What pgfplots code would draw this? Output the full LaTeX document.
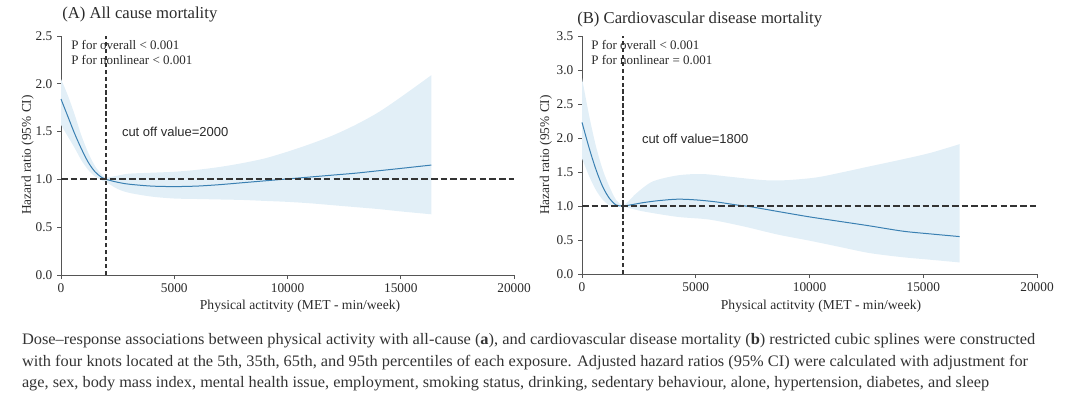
\documentclass[border=0pt]{standalone}
\usepackage{fontspec}
\setmainfont{Liberation Serif}
\newfontfamily\arialf{Liberation Sans}
\usepackage{graphicx}
\usepackage{pgfplots}
\pgfplotsset{compat=1.18}
\usepgfplotslibrary{fillbetween}
\definecolor{band}{HTML}{E2EFF7}
\definecolor{curve}{HTML}{3A80B2}
\definecolor{axisgray}{HTML}{555555}
\definecolor{txt}{HTML}{2A2A2A}
\definecolor{dashc}{HTML}{333333}

\pgfplotsset{
  rcs/.style={
    scale only axis, anchor=south west,
    axis lines=left,
    axis line style={-, color=axisgray, line width=0.6pt},
    tick align=outside, major tick length=3pt,
    tick style={color=axisgray, line width=0.6pt},
    xmin=0, xmax=20000, xtick={0,5000,10000,15000,20000},
    scaled x ticks=false, scaled y ticks=false,
    xticklabel style={/pgf/number format/1000 sep={}},
    yticklabel style={/pgf/number format/fixed, /pgf/number format/fixed zerofill, /pgf/number format/precision=1},
    /pgf/number format/assume math mode=true,
    tick label style={font=\fontsize{10}{11}\selectfont, text=txt},
    clip=false,
  },
  hdash/.style={dashc, line width=1.45pt, dash pattern=on 5pt off 2.3pt},
  vdash/.style={dashc, line width=1.25pt, dash pattern=on 3.2pt off 2pt},
}

\begin{document}
\begin{tikzpicture}
\path (0,0) rectangle (810pt,300pt);

% ---------------- Panel A ----------------
\begin{axis}[rcs, at={(45.75pt,93.75pt)}, width=339.75pt, height=179.25pt,
  ymin=0, ymax=2.5, ytick={0,0.5,1,1.5,2,2.5}]
\addplot[draw=none, name path=upA, smooth] coordinates {
(0,2.05) (300,1.88) (600,1.68) (900,1.46) (1200,1.28) (1500,1.14) (1800,1.05) (2000,1.02)
(2500,1.04) (3000,1.06) (4000,1.07) (5000,1.08) (6000,1.10) (7000,1.13) (8000,1.17)
(9000,1.22) (10000,1.29) (11000,1.37) (12000,1.46) (13000,1.57) (14000,1.70) (15000,1.86) (16350,2.09)};
\addplot[draw=none, name path=loA, smooth] coordinates {
(0,1.57) (300,1.45) (600,1.33) (900,1.20) (1200,1.10) (1500,1.03) (1800,0.99) (2000,0.97)
(2500,0.90) (3000,0.86) (4000,0.82) (5000,0.80) (6000,0.795) (7000,0.79) (8000,0.785)
(9000,0.775) (10000,0.765) (11000,0.75) (12000,0.73) (13000,0.71) (14000,0.69) (15000,0.665) (16350,0.635)};
\addplot[band, draw=none] fill between[of=upA and loA];
\addplot[curve, line width=0.75pt, smooth] coordinates {
(0,1.84) (300,1.66) (600,1.48) (900,1.32) (1200,1.18) (1500,1.08) (1800,1.02) (2000,1.00)
(2500,0.97) (3000,0.95) (4000,0.93) (5000,0.925) (6000,0.93) (7000,0.945) (8000,0.965)
(9000,0.985) (10000,1.005) (11000,1.025) (12000,1.045) (13000,1.065) (14000,1.09) (15000,1.115) (16350,1.15)};
\addplot[hdash] coordinates {(0,1) (20000,1)};
\addplot[vdash] coordinates {(2000,0) (2000,2.5)};
\end{axis}

% ---------------- Panel B ----------------
\begin{axis}[rcs, at={(436.5pt,94.5pt)}, width=341.25pt, height=178.5pt,
  ymin=0, ymax=3.5, ytick={0,0.5,1,1.5,2,2.5,3,3.5}]
\addplot[draw=none, name path=upB, smooth] coordinates {
(0,2.88) (325,2.31) (620,1.87) (915,1.53) (1210,1.28) (1500,1.09) (1800,1.01) (2100,1.09)
(2400,1.19) (3100,1.36) (4200,1.45) (5300,1.47) (6500,1.43) (8000,1.38) (9000,1.38)
(10300,1.42) (11500,1.50) (12600,1.58) (14000,1.68) (15300,1.78) (16600,1.91)};
\addplot[draw=none, name path=loB, smooth] coordinates {
(0,1.70) (325,1.43) (620,1.23) (915,1.09) (1210,1.01) (1500,0.99) (1800,0.99) (2700,0.92)
(4200,0.84) (5600,0.80) (7100,0.70) (8600,0.58) (10000,0.49) (11300,0.40) (12600,0.31)
(14000,0.25) (15300,0.21) (16600,0.17)};
\addplot[band, draw=none] fill between[of=upB and loB];
\addplot[curve, line width=0.75pt, smooth] coordinates {
(0,2.23) (325,1.84) (620,1.53) (915,1.28) (1210,1.11) (1500,1.015) (1800,1.0) (2200,1.02)
(2700,1.05) (3400,1.08) (4200,1.10) (5000,1.09) (5900,1.06) (6800,1.015) (7400,0.99)
(8600,0.92) (10000,0.84) (11200,0.78) (12600,0.71) (14100,0.63) (15300,0.59) (16600,0.55)};
\addplot[hdash] coordinates {(0,1) (20000,1)};
\addplot[vdash] coordinates {(1800,0) (1800,3.5)};
\end{axis}

% ---------------- Texts ----------------
\begin{scope}[every node/.style={inner sep=0pt, text=txt}]
\node[anchor=west, font=\fontsize{12.5}{14}\selectfont] at (46.5pt,288.75pt) {(A) All cause mortality};
\node[anchor=west, font=\fontsize{12.5}{14}\selectfont] at (432.75pt,285pt) {(B) Cardiovascular disease mortality};

\node[anchor=base west, font=\fontsize{9.75}{11}\selectfont] at (53.25pt,262.5pt) {P for overall < 0.001};
\node[anchor=base west, font=\fontsize{9.75}{11}\selectfont] at (53.25pt,251.25pt) {P for nonlinear < 0.001};
\node[anchor=base west, font=\fontsize{9.75}{11}\selectfont] at (443.25pt,262.5pt) {P for overall < 0.001};
\node[anchor=base west, font=\fontsize{9.75}{11}\selectfont] at (443.25pt,251.25pt) {P for nonlinear = 0.001};

\node[anchor=base west, font=\arialf\fontsize{9.75}{11}\selectfont] at (91.3pt,197.25pt) {cut off value=2000};
\node[anchor=base west, font=\arialf\fontsize{9.75}{11}\selectfont] at (481.3pt,192pt) {cut off value=1800};

\node[rotate=90, font=\fontsize{10}{12}\selectfont] at (20.7pt,183.75pt) {Hazard ratio (95\% CI)};
\node[rotate=90, font=\fontsize{10}{12}\selectfont] at (409.35pt,183.75pt) {Hazard ratio (95\% CI)};

\node[font=\fontsize{10.2}{12}\selectfont] at (225pt,70.5pt) {Physical actitvity (MET - min/week)};
\node[font=\fontsize{10.2}{12}\selectfont] at (615.75pt,70.5pt) {Physical actitvity (MET - min/week)};

\node[anchor=base west, font=\fontsize{12}{14}\selectfont, text=black!80] at (16.3pt,42pt)
 {\resizebox{760pt}{\height}{Dose–response associations between physical activity with all-cause (\textbf{a}), and cardiovascular disease mortality (\textbf{b}) restricted cubic splines were constructed}};
\node[anchor=base west, font=\fontsize{12}{14}\selectfont, text=black!80] at (16.3pt,25.5pt)
 {\resizebox{754.5pt}{\height}{with four knots located at the 5th, 35th, 65th, and 95th percentiles of each exposure. Adjusted hazard ratios (95\% CI) were calculated with adjustment for}};
\node[anchor=base west, font=\fontsize{12}{14}\selectfont, text=black!80] at (16.3pt,9.75pt)
 {\resizebox{725.25pt}{\height}{age, sex, body mass index, mental health issue, employment, smoking status, drinking, sedentary behaviour, alone, hypertension, diabetes, and sleep}};
\end{scope}
\end{tikzpicture}
\end{document}
